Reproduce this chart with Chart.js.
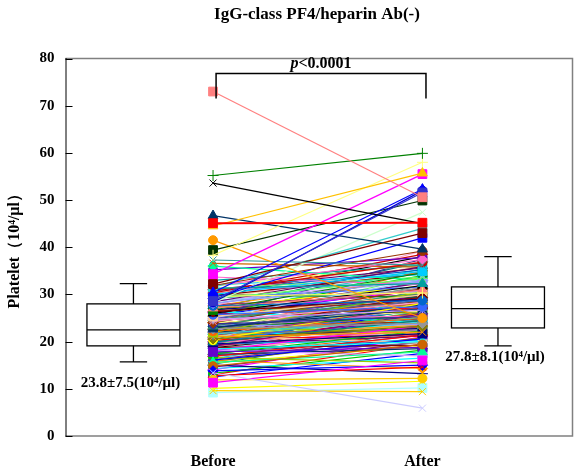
<!DOCTYPE html>
<html><head><meta charset="utf-8">
<script src="https://cdn.jsdelivr.net/npm/chart.js@4.4.1/dist/chart.umd.min.js"></script>
<style>html,body{margin:0;padding:0;background:#fff}#wrap{width:585px;height:476px}</style>
</head><body><div id="wrap"><canvas id="c" width="585" height="476"></canvas></div>
<script>
// ---------- data ----------
const chartTitle = 'IgG-class PF4/heparin Ab(-)';
const categories = ['Before', 'After'];
const yTicks = [0, 10, 20, 30, 40, 50, 60, 70, 80];
const yTitle = 'Platelet\uFF0810\u2074/\u03BCl\uFF09';

// paired platelet counts (x10^4/ul), one patient per index
const before = [
  12.5,13.0,13.3,14.0,14.3,14.6,15.0,15.2,15.5,15.8,16.0,16.2,16.4,16.6,16.8,17.0,17.2,17.3,17.5,17.7,
  17.9,18.0,18.2,18.3,18.5,18.6,18.7,18.8,18.9,19.0,19.1,19.2,19.3,19.4,19.5,19.6,19.7,19.8,19.9,20.0,
  20.1,20.2,20.3,20.4,20.5,20.6,20.7,20.8,20.9,21.0,21.1,21.2,21.3,21.4,21.5,21.6,21.7,21.8,21.9,22.0,
  22.1,22.2,22.3,22.4,22.5,20.5,21.2,19.6,22.0,22.6,22.8,23.0,23.2,23.4,23.6,23.8,24.0,24.2,24.4,24.6,
  24.8,25.0,25.2,25.4,25.6,25.8,26.0,26.2,26.4,26.6,26.8,27.0,27.2,27.4,27.6,27.8,28.0,23.1,24.1,25.1,
  26.1,22.9,24.5,25.5,26.5,27.5,28.5,28.8,29.0,29.2,29.5,29.7,29.9,30.1,30.6,30.8,31.0,31.2,31.7,32.0,
  30.3,33.0,33.7,35.2,36.0,36.6,
  16.1,16.9,17.4,18.1,18.4,19.0,19.5,19.9,20.3,20.6,21.0,21.3,21.6,21.9,22.2,22.5,22.7,23.0,23.3,23.7,
  24.0,24.3,24.7,25.0,25.3,25.7,26.0,26.3,26.7,27.1,27.6,28.1,28.4,29.1,29.6,30.0,30.7,31.3,31.8,17.8,
  15.6,14.8,13.8,12.8,
  9.2,9.6,10.1,11.9,11.3,13.4,28.2,29.3,31.5,31.9,32.2,37.3,41.5,46.7,39.4,38.3,34.3,44.5,28.3,30.4,
  28.6,53.6,55.2,73.0,45.1
];
const after = [
  17.5,19.5,18.2,21.0,16.5,20.0,13.2,22.4,19.0,20.8,14.3,21.5,23.0,15.5,22.0,19.8,24.5,18.5,23.5,20.5,
  26.0,22.6,17.0,24.0,21.8,27.5,23.2,19.2,25.0,22.9,28.0,24.2,21.2,26.5,23.8,20.2,25.5,27.0,22.2,24.8,
  29.0,23.0,26.2,21.5,25.8,28.5,24.0,30.2,22.8,26.8,25.2,31.0,23.5,27.8,24.6,29.5,26.0,22.5,28.2,25.0,
  32.0,27.2,24.4,30.0,26.6,33.0,19.7,27.4,29.8,28.8,25.6,31.5,27.0,23.6,29.2,33.9,26.4,30.5,27.6,32.8,
  25.4,29.6,35.5,28.0,31.1,27.1,34.0,30.8,24.0,32.4,29.0,36.9,31.8,26.0,33.5,30.0,34.8,21.9,35.0,28.6,
  31.4,27.8,30.4,37.5,28.4,39.2,33.2,30.6,36.0,31.6,38.0,34.4,29.4,37.0,35.2,32.6,35.6,33.7,36.4,34.2,
  38.5,36.2,32.0,37.8,33.0,35.8,
  20.6,21.3,22.3,23.4,20.0,25.9,21.7,24.5,28.1,23.3,22.0,27.3,25.1,30.6,24.9,28.9,23.9,26.9,30.1,25.3,
  31.2,28.3,26.7,33.1,29.9,27.4,31.9,29.3,34.6,30.9,28.7,32.9,35.9,33.4,30.3,34.9,36.8,32.3,37.4,18.8,
  17.8,19.4,15.0,14.6,
  10.2,9.4,11.6,12.2,16.0,5.9,47.4,42.0,44.0,39.2,43.0,36.2,25.0,39.6,49.9,58.0,55.5,55.7,52.0,52.3,
  51.6,45.0,59.9,50.6,45.2
];

// box plot summaries: [lower whisker, Q1, median, Q3, upper whisker]
const boxBefore = [15.7, 19.1, 22.5, 28.0, 32.3];
const boxAfter  = [19.1, 22.9, 27.0, 31.6, 38.0];
const summaryText = ['23.8\u00B17.5(10\u2074/\u03BCl)', '27.8\u00B18.1(10\u2074/\u03BCl)'];
const pText = ['p', '<0.0001'];

// ---------- layout / style ----------
const xPos = [29.1, 70.4];          // Before / After on a 0..100 horizontal scale
const boxCenter = [13.4, 85.3];
const boxHalf = 9.17, capHalf = 2.7;
const summaryY = [11.2, 16.7];
const bracket = {y0: 71.5, y1: 76.8, textY: 78.9, x0: 29.7, x1: 71.1};

const palette = ['#0000ff','#ff0000','#00cc00','#ff00ff','#00ffff','#800080','#000080','#008080','#ffff00',
  '#808000','#ff9900','#993366','#33cccc','#99cc00','#ff6600','#666699','#969696','#003366','#339966',
  '#333399','#993300','#ff99cc','#cc99ff','#99ccff','#ffcc99','#3366ff','#000000','#800000','#008000',
  '#ff8080','#0066cc','#9999ff','#660066','#66ff66','#ffff66','#00ccff','#cc0000','#00a0a0','#ff66cc',
  '#6600cc','#00ff99','#cc6600'];
const shapes = ['rect','triangle','circle','rectRot','crossRot','star','cross','rect','circle','triangle','rectRot'];
const special = [
  ['#b0ffff','rect'],['#ffcc00','crossRot'],['#ffff00','crossRot'],['#ffcc00','circle'],['#ff00ff','rect'],
  ['#ccccff','crossRot'],['#ccffcc','crossRot'],['#0000ff','rect'],['#33cccc','rect'],['#993300','circle'],
  ['#800000','rect'],['#339999','crossRot'],['#ff9900','circle'],['#003366','triangle'],['#003300','rect'],
  ['#ffff80','cross'],['#ff00ff','rect'],['#ffc000','triangle'],['#0000cc','circle'],['#0000ff','triangle'],
  ['#3333cc','rect'],['#000000','crossRot'],['#008000','cross'],['#ff8080','rect'],['#ff0000','rect']
];
const radiusFor = {rect: 6.2, triangle: 5.6, circle: 4.5, rectRot: 5.2, crossRot: 5, star: 5, cross: 5.5};

const nBulk = before.length - special.length;
const datasets = before.map((b, i) => {
  let color, shape;
  if (i < nBulk) { color = palette[i % palette.length]; shape = shapes[i % shapes.length]; }
  else { [color, shape] = special[i - nBulk]; }
  const isRed = i === before.length - 1;
  return {
    data: [{x: xPos[0], y: b}, {x: xPos[1], y: after[i]}],
    borderColor: color, backgroundColor: color,
    pointBorderColor: color, pointBackgroundColor: color,
    borderWidth: isRed ? 2 : 1.2,
    pointStyle: shape, pointRadius: radiusFor[shape], pointBorderWidth: 1,
    pointHoverRadius: radiusFor[shape],
    order: before.length - i, clip: false
  };
});

const SERIF = '"Liberation Serif", "Times New Roman", serif';

const decor = {
  id: 'decor',
  afterDraw(chart) {
    const {ctx, chartArea: a, scales: {x, y}} = chart;
    ctx.save();
    // frame
    ctx.strokeStyle = '#808080'; ctx.lineWidth = 1.5;
    ctx.beginPath();
    ctx.moveTo(a.left, a.top); ctx.lineTo(a.right, a.top); ctx.lineTo(a.right, a.bottom); ctx.lineTo(a.left, a.bottom);
    ctx.stroke();
    ctx.strokeStyle = '#000'; ctx.lineWidth = 1;
    ctx.beginPath();
    ctx.moveTo(a.left + 0.5, a.top - 0.5); ctx.lineTo(a.left + 0.5, a.bottom);
    yTicks.forEach(v => {
      const py = Math.round(y.getPixelForValue(v)) + 0.5;
      ctx.moveTo(a.left, py); ctx.lineTo(a.left + 7, py);
    });
    ctx.stroke();

    // title
    ctx.fillStyle = '#000';
    ctx.font = 'bold 17px ' + SERIF;
    ctx.textAlign = 'center'; ctx.textBaseline = 'middle';
    ctx.fillText(chartTitle, (a.left + a.right) / 2 - 2, 15);

    // box plots
    const drawBox = (s, c) => {
      const px = x.getPixelForValue(c);
      const hw = x.getPixelForValue(c + boxHalf) - px;
      const cw = x.getPixelForValue(c + capHalf) - px;
      const [lo, q1, md, q3, hi] = s.map(v => y.getPixelForValue(v));
      ctx.lineWidth = 1.3; ctx.strokeStyle = '#000'; ctx.fillStyle = '#fff';
      ctx.fillRect(px - hw, q3, 2 * hw, q1 - q3);
      ctx.strokeRect(px - hw, q3, 2 * hw, q1 - q3);
      ctx.beginPath();
      ctx.moveTo(px - hw, md); ctx.lineTo(px + hw, md);
      ctx.moveTo(px, q3); ctx.lineTo(px, hi);
      ctx.moveTo(px - cw, hi); ctx.lineTo(px + cw, hi);
      ctx.moveTo(px, q1); ctx.lineTo(px, lo);
      ctx.moveTo(px - cw, lo); ctx.lineTo(px + cw, lo);
      ctx.stroke();
    };
    drawBox(boxBefore, boxCenter[0]);
    drawBox(boxAfter, boxCenter[1]);

    // summary labels
    ctx.fillStyle = '#000';
    ctx.font = 'bold 15px ' + SERIF;
    ctx.textAlign = 'center'; ctx.textBaseline = 'middle';
    summaryText.forEach((t, i) => {
      ctx.fillText(t, x.getPixelForValue(boxCenter[i]) - 3, y.getPixelForValue(summaryY[i]));
    });

    // significance bracket
    const bx0 = x.getPixelForValue(bracket.x0), bx1 = x.getPixelForValue(bracket.x1);
    const by0 = y.getPixelForValue(bracket.y0), by1 = y.getPixelForValue(bracket.y1);
    ctx.lineWidth = 1.5; ctx.strokeStyle = '#000';
    ctx.beginPath();
    ctx.moveTo(bx0, by0); ctx.lineTo(bx0, by1); ctx.lineTo(bx1, by1); ctx.lineTo(bx1, by0);
    ctx.stroke();
    const fItal = 'italic bold 16px ' + SERIF, fBold = 'bold 16px ' + SERIF;
    ctx.font = fItal; const w0 = ctx.measureText(pText[0]).width;
    ctx.font = fBold; const w1 = ctx.measureText(pText[1]).width;
    const sx = (bx0 + bx1) / 2 - (w0 + w1) / 2, ty = y.getPixelForValue(bracket.textY);
    ctx.textAlign = 'left';
    ctx.font = fItal; ctx.fillText(pText[0], sx, ty);
    ctx.font = fBold; ctx.fillText(pText[1], sx + w0, ty);
    ctx.restore();
  }
};

new Chart(document.getElementById('c'), {
  type: 'line',
  data: {datasets},
  options: {
    responsive: false, animation: false, events: [],
    layout: {padding: {left: 0, top: 58.5, right: 12.5, bottom: 0}},
    plugins: {legend: {display: false}, tooltip: {enabled: false}, title: {display: false}},
    elements: {line: {tension: 0}},
    scales: {
      x: {
        type: 'linear', min: 0, max: 100,
        grid: {display: false, drawTicks: false}, border: {display: false},
        afterBuildTicks: s => { s.ticks = xPos.map(v => ({value: v})); },
        afterFit: s => { s.height = 40; },
        ticks: {
          autoSkip: false, maxRotation: 0, padding: 16, color: '#000',
          font: {family: SERIF, size: 16, weight: 'bold'},
          callback: (v, i) => categories[i]
        }
      },
      y: {
        min: 0, max: 80,
        grid: {display: false, drawTicks: false}, border: {display: false},
        afterBuildTicks: s => { s.ticks = yTicks.map(v => ({value: v})); },
        afterFit: s => { s.width = 65.5; },
        ticks: {padding: 11, color: '#000', font: {family: SERIF, size: 15, weight: 'bold'}},
        title: {display: true, text: yTitle, color: '#000', padding: {top: 5.5, bottom: 0},
                font: {family: SERIF, size: 16, weight: 'bold'}}
      }
    }
  },
  plugins: [decor]
});
</script></body></html>
